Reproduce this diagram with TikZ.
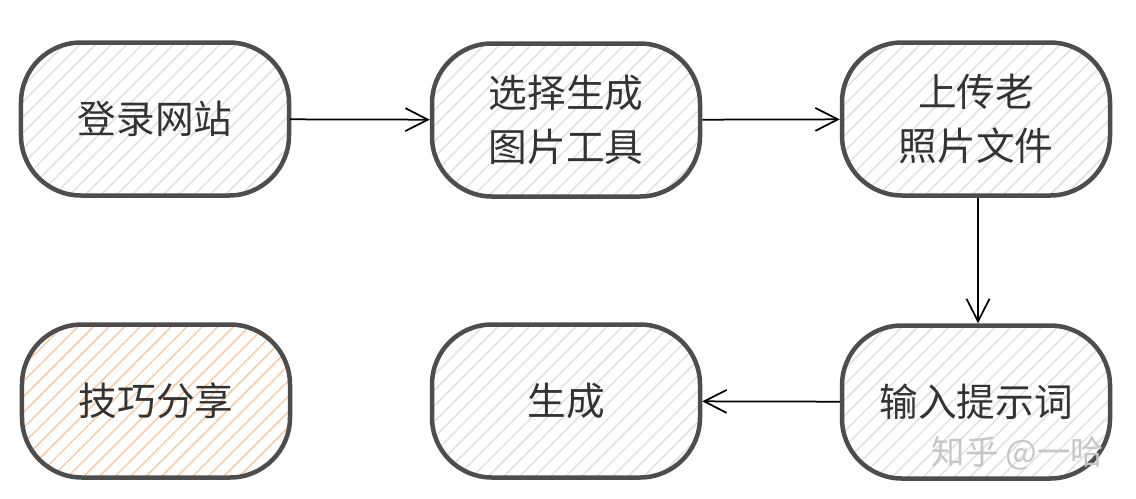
\documentclass[tikz,border=0pt]{standalone}
\usepackage{fontspec}
\setmainfont{Noto Sans CJK SC}
\usepackage{tikz}
\usetikzlibrary{arrows.meta}
\usetikzlibrary{patterns.meta}
\usetikzlibrary{positioning}

\definecolor{edgegray}{HTML}{4D4D4D}
\definecolor{textgray}{HTML}{333333}
\definecolor{hatchgray}{HTML}{E0E0E0}
\definecolor{hatchpeach}{HTML}{F8CBA8}

\begin{document}
\begin{tikzpicture}[x=0.2mm, y=-0.2mm,
    stepbox/.style={draw=edgegray, line width=0.9mm, rounded corners=12mm,
      minimum width=53.6mm, minimum height=30.6mm, align=center,
      text=textgray, font=\fontsize{22}{31}\selectfont,
      pattern={Lines[angle=45, distance=2.2mm, line width=0.3mm]},
      pattern color=hatchgray},
    tipbox/.style={stepbox, pattern color=hatchpeach},
    flow/.style={-{Straight Barb[length=4.5mm, width=4.6mm]}, line width=0.35mm, black}]
    \useasboundingbox (0,0) rectangle (1136,498);

    % top row
    \node[stepbox] (login) at (155,119) {登录网站};
    \node[stepbox] (tool) at (566,120) {选择生成\\图片工具};
    \node[stepbox] (upload) at (976,119) {上传老\\照片文件};

    % bottom row
    \node[tipbox] (tips) at (156,401) {技巧分享};
    \node[stepbox] (gen) at (566,401) {生成};
    \node[stepbox] (prompt) at (976,402) {输入提示词};

    % arrows
    \draw[flow] (login) -- (tool);
    \draw[flow] (tool) -- (upload);
    \draw[flow] (upload.south -| 978,0) -- (prompt.north -| 978,0);
    \draw[flow] (prompt) -- (gen);

    % watermark
    \node[text=gray!45, font=\fontsize{19}{21}\selectfont] (mark) at (1018,453) {知乎 @一哈};
\end{tikzpicture}
\end{document}
